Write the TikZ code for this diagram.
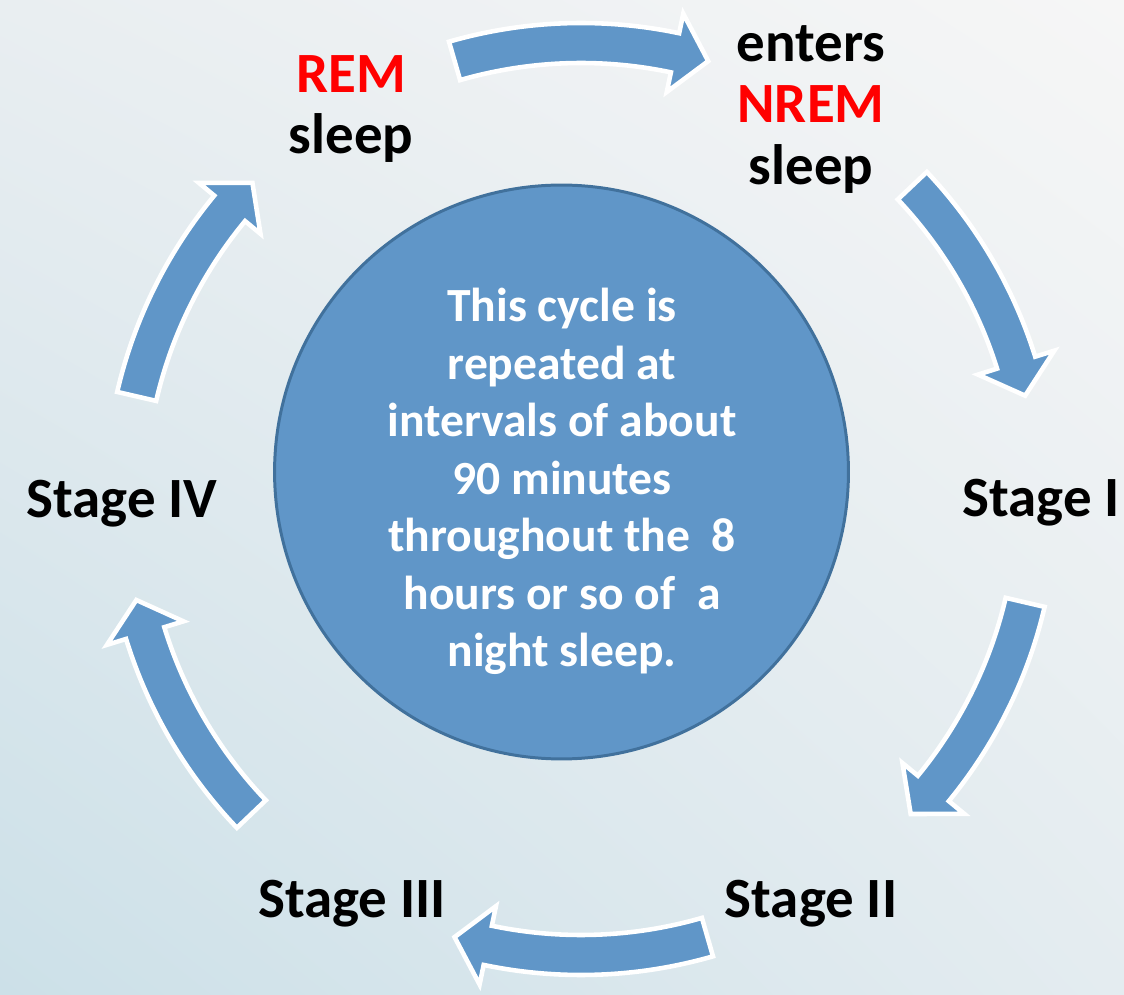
\documentclass[tikz,border=0pt]{standalone}
\usepackage{fontspec}
\setmainfont{Carlito}
\usetikzlibrary{calc, shadings}
\definecolor{cycleblue}{RGB}{96,150,200}
\definecolor{cycleborder}{RGB}{65,113,156}
\definecolor{bgul}{RGB}{233,238,241}
\definecolor{bgur}{RGB}{246,246,246}
\definecolor{bgll}{RGB}{204,224,232}
\definecolor{bglr}{RGB}{228,236,240}
\tikzset{
	cyclearrow/.style={fill=cycleblue, draw=white, line width=2.6pt, line join=miter},
	stagelabel/.style={inner sep=0pt, align=center, font=\fontsize{32.4}{35}\selectfont\bfseries},
	disctext/.style={inner sep=0pt, align=center, text=white, font=\fontsize{27.1}{32.7}\selectfont\bfseries}
}

\begin{document}
\begin{tikzpicture}[x=0.02cm, y=0.02cm]
				%Background
				\shade[upper left=bgul, upper right=bgur, lower left=bgll, lower right=bglr] (0,0) rectangle (1124,994);
				\useasboundingbox (0,0) rectangle (1124,994);
				%Centre of the arrow ring
				\coordinate (hub) at (581,495);
				%Curved arrows, tail angle / tip angle
				\foreach \from/\to in {106.1/73.8, 43.4/13.1, -13.1/-43.7, -73.9/-106.1, -136.3/-167.2, 167.0/136.1} {
					\pgfmathsetmacro{\base}{\to+4.3}
					\draw [cyclearrow] ($(hub)+(\from:476)$) arc [start angle=\from, end angle=\base, radius=476]
						-- ($(hub)+(\base:496)$) -- ($(hub)+(\to:456)$) -- ($(hub)+(\base:416)$)
						-- ($(hub)+(\base:436)$) arc [start angle=\base, end angle=\from, radius=436] -- cycle;
				}
				%The disc in the middle
				\node (disc) [circle, minimum size=11.48cm, inner sep=0pt, fill=cycleblue, draw=cycleborder, line width=1.7pt] at (561.5,522) {};
				\node (cycletext) [disctext, anchor=north] at (562,706) {This cycle is\\repeated at\\intervals of about\\90 minutes\\throughout the~ 8\\hours or so of~ a\\night sleep.};
				%The stages
				\node (rem) [stagelabel, anchor=north] at (351,939) {\textcolor{red}{REM}\\sleep};
				\node (nrem) [stagelabel, anchor=north] at (811,969) {enters\\\textcolor{red}{NREM}\\sleep};
				\node (stage1) [stagelabel, anchor=base] at (1041,477) {Stage I};
				\node (stage2) [stagelabel, anchor=base] at (811,77) {Stage II};
				\node (stage3) [stagelabel, anchor=base] at (352,77) {Stage III};
				\node (stage4) [stagelabel, anchor=base] at (122,476) {Stage IV};
\end{tikzpicture}
\end{document}
